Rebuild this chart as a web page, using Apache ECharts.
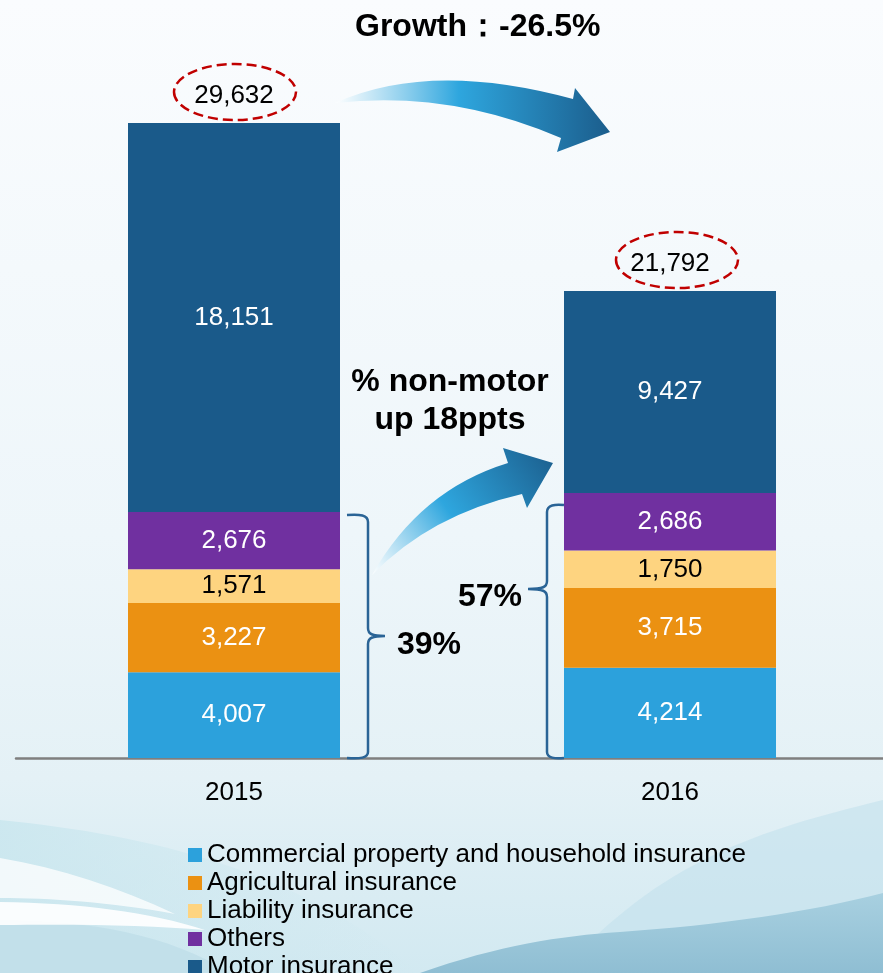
<!DOCTYPE html>
<html>
<head>
<meta charset="utf-8">
<script src="https://cdn.jsdelivr.net/npm/echarts@6/dist/echarts.min.js"></script>
<style>
  html, body { margin: 0; padding: 0; }
  #chart { width: 883px; height: 973px; }
</style>
</head>
<body>
<div id="chart"></div>
<script>
var years = ['2015', '2016'];
var commercial = [4007, 4214];
var agricultural = [3227, 3715];
var liability = [1571, 1750];
var others = [2676, 2686];
var motor = [18151, 9427];
var totals = [29632, 21792];
var seriesNames = ['Commercial property and household insurance', 'Agricultural insurance', 'Liability insurance', 'Others', 'Motor insurance'];
var colors = ['#2ca1dc', '#eb9112', '#fed480', '#7030a0', '#1a5a8a'];

var nonMotor = years.map(function (y, i) {
  return commercial[i] + agricultural[i] + liability[i] + others[i];
});

var font = 'Liberation Sans, Arial, sans-serif';
var chart = echarts.init(document.getElementById('chart'));

function fmt(v) {
  return Number(v).toLocaleString('en-US');
}

function ellipsePath(cx, cy, rx, ry) {
  return 'M' + (cx - rx) + ',' + cy +
    ' A' + rx + ',' + ry + ' 0 1,0 ' + (cx + rx) + ',' + cy +
    ' A' + rx + ',' + ry + ' 0 1,0 ' + (cx - rx) + ',' + cy + ' Z';
}

function stackBar(name, data, color, labelColor) {
  return {
    name: name,
    type: 'bar',
    stack: 'total',
    barWidth: 212,
    data: data,
    itemStyle: { color: color },
    label: {
      show: true,
      position: 'inside',
      fontSize: 26,
      fontFamily: font,
      color: labelColor,
      formatter: function (p) { return fmt(p.value); }
    }
  };
}

// curly brace, tip pointing right (dir 1) or left (dir -1)
function bracePath(xEnd, xv, tipX, top, mid, bottom, dir) {
  var h = 8 * dir;
  return 'M' + xEnd + ',' + top +
    ' C' + (xv - h) + ',' + (top - 1) + ' ' + xv + ',' + top + ' ' + xv + ',' + (top + 7) +
    ' L' + xv + ',' + (mid - 8) +
    ' C' + xv + ',' + (mid - 2) + ' ' + (xv + 4 * dir) + ',' + mid + ' ' + tipX + ',' + mid +
    ' C' + (xv + 4 * dir) + ',' + mid + ' ' + xv + ',' + (mid + 2) + ' ' + xv + ',' + (mid + 8) +
    ' L' + xv + ',' + (bottom - 6) +
    ' C' + xv + ',' + bottom + ' ' + (xv - h) + ',' + (bottom + 1) + ' ' + xEnd + ',' + bottom;
}

var arrowStops = [
  { offset: 0, color: 'rgba(255,255,255,0.9)' },
  { offset: 0.45, color: '#2ea6de' },
  { offset: 1, color: '#1b5d8c' }
];
var boldText = { fontSize: 32, fontWeight: 'bold', fill: '#000', fontFamily: font };
var braceStyle = { fill: null, stroke: '#2a6496', lineWidth: 2.5 };

var option = {
  backgroundColor: {
    type: 'linear', x: 0, y: 0, x2: 0, y2: 1,
    colorStops: [
      { offset: 0, color: '#fafcfe' },
      { offset: 0.55, color: '#eef6fa' },
      { offset: 0.8, color: '#e4f1f6' },
      { offset: 1, color: '#d2e9f1' }
    ]
  },
  animation: false,
  color: colors,
  title: {
    text: 'Growth：-26.5%',
    left: 350,
    top: 6,
    textStyle: { fontSize: 32, fontWeight: 'bold', color: '#000', fontFamily: font }
  },
  legend: {
    orient: 'vertical',
    left: 188,
    top: 842,
    height: 160,
    padding: 0,
    itemWidth: 14,
    itemHeight: 14,
    itemGap: 2,
    icon: 'rect',
    data: seriesNames,
    textStyle: { fontSize: 26, color: '#000', fontFamily: font }
  },
  grid: { left: 16, width: 872, top: 8, bottom: 215, outerBoundsMode: 'none' },
  xAxis: {
    type: 'category',
    data: years,
    axisLine: { lineStyle: { color: '#7f7f7f', width: 2.5 } },
    axisTick: { show: false },
    axisLabel: { fontSize: 26, color: '#000', fontFamily: font, margin: 22 }
  },
  yAxis: {
    type: 'value',
    min: 0,
    max: 35000,
    show: false,
    splitLine: { show: false }
  },
  series: [
    stackBar(seriesNames[0], commercial, colors[0], '#fff'),
    stackBar(seriesNames[1], agricultural, colors[1], '#fff'),
    stackBar(seriesNames[2], liability, colors[2], '#000'),
    stackBar(seriesNames[3], others, colors[3], '#fff'),
    stackBar(seriesNames[4], motor, colors[4], '#fff'),
    {
      // totals with dashed rings
      name: 'Total',
      type: 'custom',
      clip: false,
      z: 10,
      data: totals.map(function (v, i) { return [i, v]; }),
      renderItem: function (params, api) {
        var p = api.coord([api.value(0), api.value(1)]);
        var dx = params.dataIndex === 0 ? 1 : 7;
        return {
          type: 'group',
          children: [
            { type: 'path', shape: { pathData: ellipsePath(p[0] + dx, p[1] - 31, 61, 28) },
              style: { fill: null, stroke: '#c00000', lineWidth: 2.5, lineDash: [10, 5] } },
            { type: 'text', x: p[0], y: p[1] - 27,
              style: { text: fmt(api.value(1)), fill: '#000', fontSize: 26, fontFamily: font, align: 'center', verticalAlign: 'middle' } }
          ]
        };
      }
    },
    {
      // arrows, braces and notes
      name: 'notes',
      type: 'custom',
      clip: false,
      z: 10,
      data: [0],
      renderItem: function (params, api) {
        var half = 106;
        var a = api.coord([0, nonMotor[0]]);
        var b = api.coord([1, nonMotor[1]]);
        var by = api.coord([0, 0])[1];
        var xv1 = a[0] + half + 28, tip1 = xv1 + 17;
        var xv2 = b[0] - half - 17, tip2 = xv2 - 19;
        return {
          type: 'group',
          children: [
            { type: 'path', shape: { pathData: 'M335,103 Q430,60 573,99 L575,88 L610,132 L557,152 L561,138 Q450,90 335,103 Z' },
              style: { fill: new echarts.graphic.LinearGradient(0, 0, 1, 0, arrowStops) } },
            { type: 'path', shape: { pathData: 'M372,575 Q420,490 508,463 L503,448 L553,463 L527,508 L522,494 Q430,515 372,575 Z' },
              style: { fill: new echarts.graphic.LinearGradient(0, 1, 1, 0, arrowStops) } },
            { type: 'path', shape: { pathData: bracePath(a[0] + half + 7, xv1, tip1, a[1] + 3, 636, by, 1) }, style: braceStyle },
            { type: 'path', shape: { pathData: bracePath(b[0] - half, xv2, tip2, b[1] + 12, 589, by, -1) }, style: braceStyle },
            { type: 'text', x: 450, y: 382, style: Object.assign({ text: '% non-motor', align: 'center', verticalAlign: 'middle' }, boldText) },
            { type: 'text', x: 450, y: 420, style: Object.assign({ text: 'up 18ppts', align: 'center', verticalAlign: 'middle' }, boldText) },
            { type: 'text', x: tip1 + 12, y: 645, style: Object.assign({ text: '39%', align: 'left', verticalAlign: 'middle' }, boldText) },
            { type: 'text', x: tip2 - 6, y: 597, style: Object.assign({ text: '57%', align: 'right', verticalAlign: 'middle' }, boldText) }
          ]
        };
      }
    },
    {
      // soft background waves
      name: 'waves',
      type: 'custom',
      clip: false,
      silent: true,
      z: 0,
      data: [0],
      renderItem: function () {
        return {
          type: 'group',
          children: [
            { type: 'path', shape: { pathData: 'M0,820 C150,835 300,870 420,973 L0,973 Z' },
              style: { fill: new echarts.graphic.LinearGradient(0, 0, 1, 0, [
                { offset: 0, color: 'rgba(200,230,238,0.8)' }, { offset: 1, color: 'rgba(200,230,238,0)' }]) } },
            { type: 'path', shape: { pathData: 'M0,920 C90,920 170,935 230,973 L0,973 Z' }, style: { fill: '#c2e0ea' } },
            { type: 'path', shape: { pathData: 'M0,858 C60,868 120,888 175,914 C110,902 50,898 0,898 Z' },
              style: { fill: 'rgba(255,255,255,0.75)' } },
            { type: 'path', shape: { pathData: 'M0,902 C80,903 150,912 205,930 C150,925 80,924 0,925 Z' },
              style: { fill: 'rgba(255,255,255,0.9)' } },
            { type: 'path', shape: { pathData: 'M883,800 C760,830 660,860 560,973 L883,973 Z' },
              style: { fill: 'rgba(195,225,236,0.6)' } },
            { type: 'path', shape: { pathData: 'M420,973 C500,945 560,936 620,932 C720,925 810,912 883,893 L883,973 Z' },
              style: { fill: new echarts.graphic.LinearGradient(0, 0, 0, 1, [
                { offset: 0, color: '#a8d0e0' }, { offset: 1, color: '#8fbed3' }]) } }
          ]
        };
      }
    }
  ]
};
chart.setOption(option);
</script>
</body>
</html>
